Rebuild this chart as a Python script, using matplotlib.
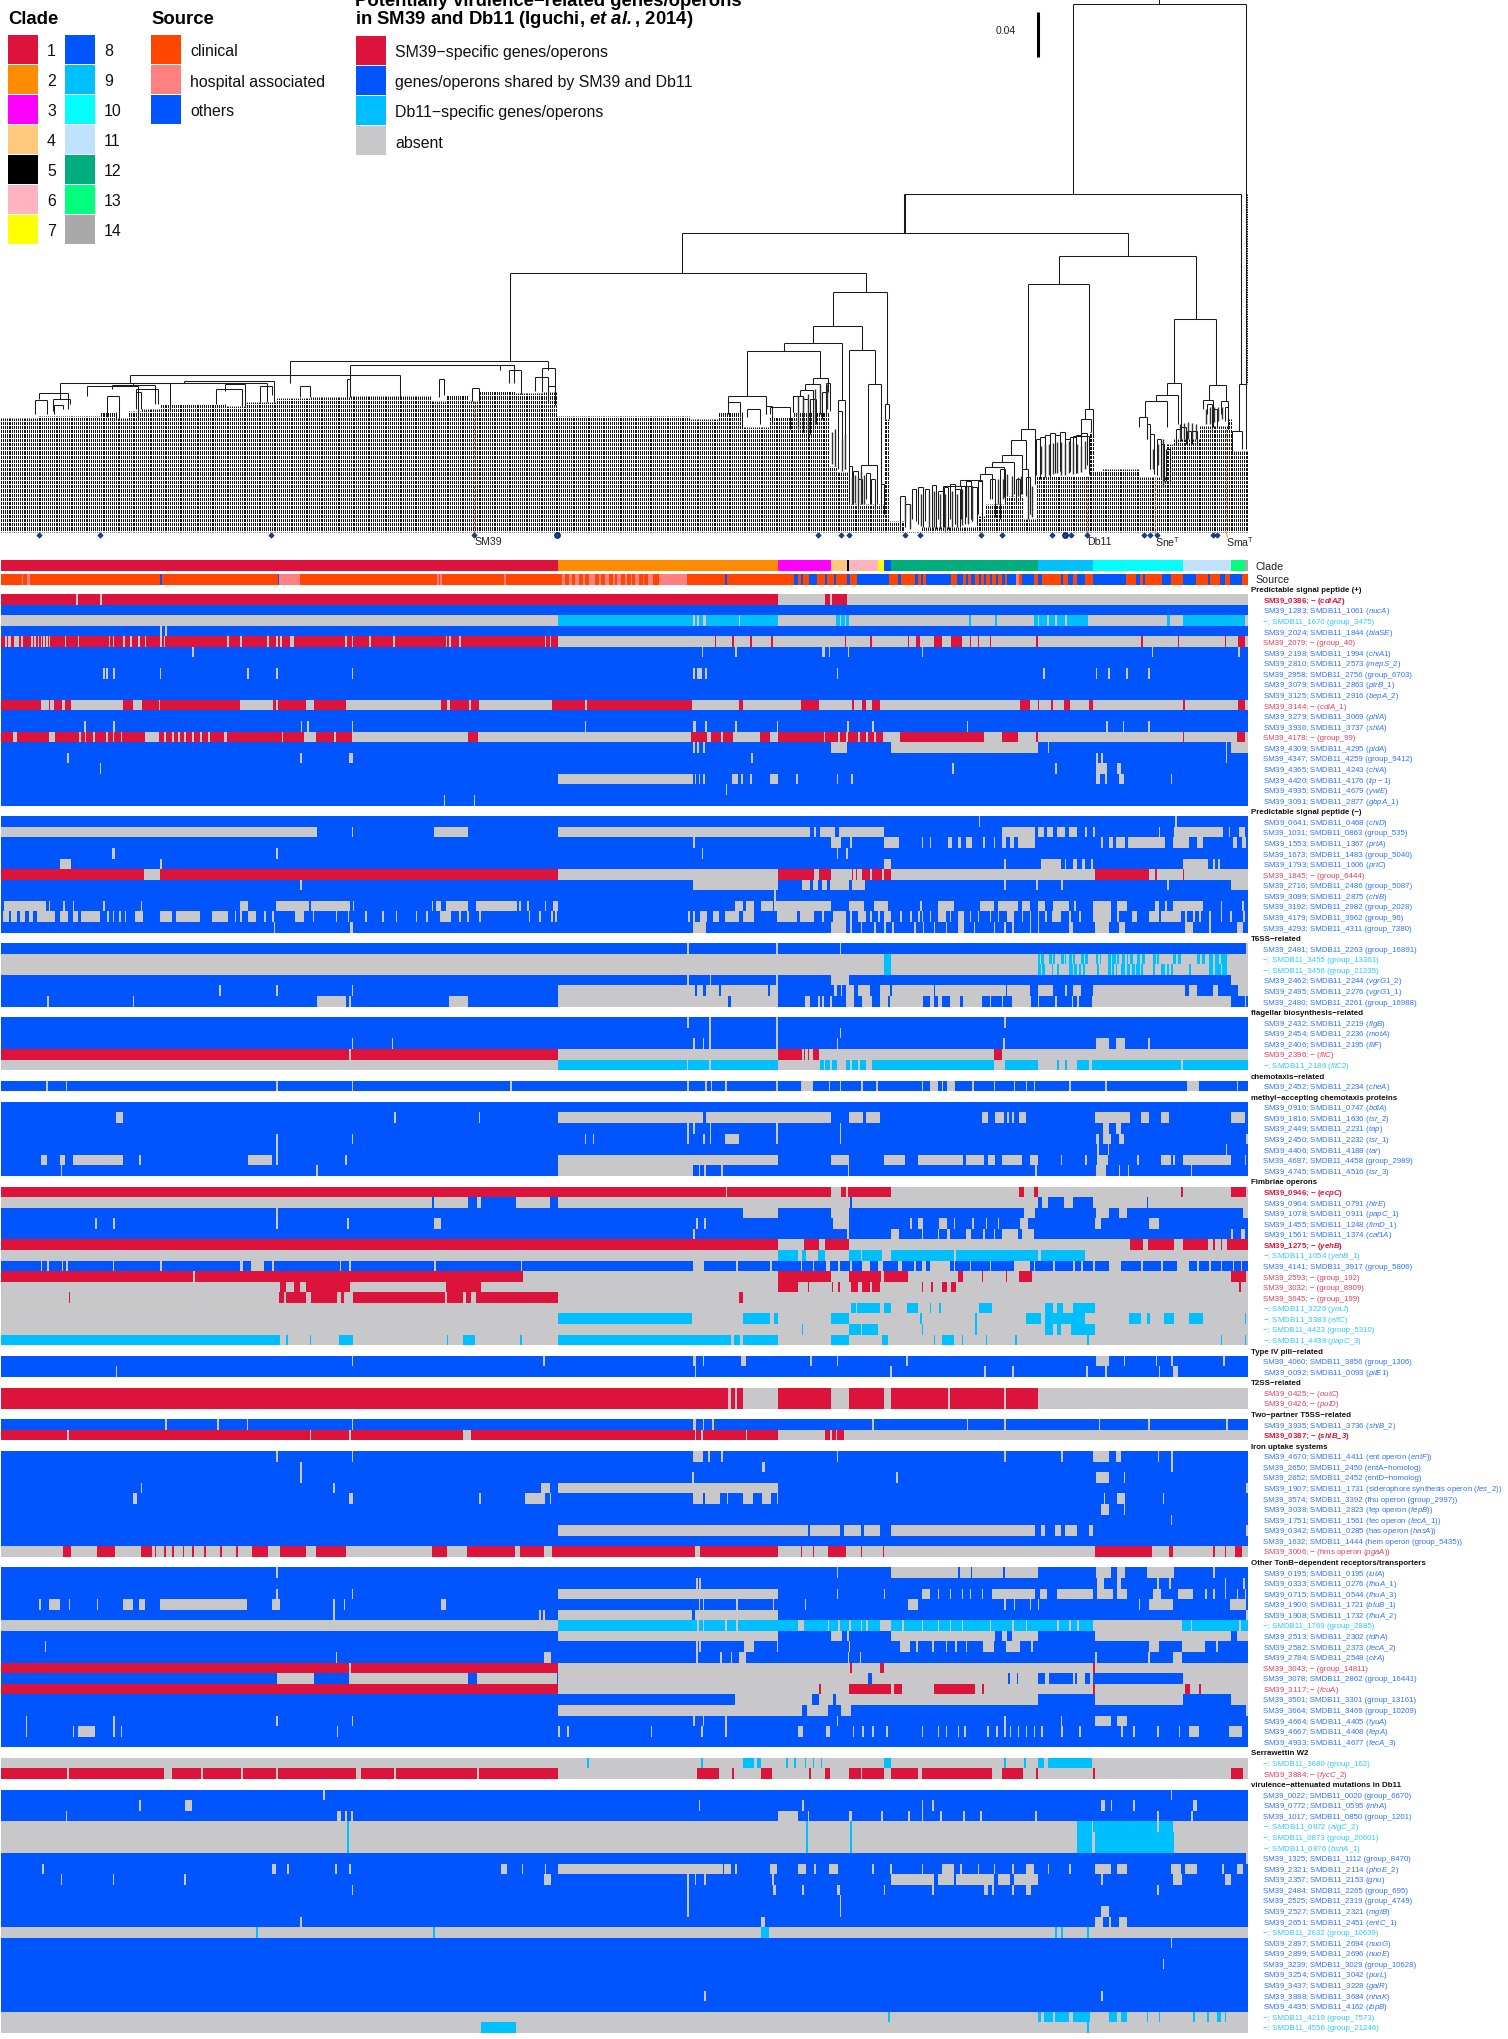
import re
import numpy as np
import matplotlib
matplotlib.use("Agg")
import matplotlib.pyplot as plt
from matplotlib.collections import LineCollection
from matplotlib.colors import ListedColormap
from matplotlib.patches import Polygon

plt.rcParams["font.family"] = ["Liberation Sans", "DejaVu Sans"]
plt.rcParams["mathtext.fontset"] = "custom"
plt.rcParams["mathtext.rm"] = "Liberation Sans"
plt.rcParams["mathtext.it"] = "Liberation Sans:italic"
plt.rcParams["mathtext.bf"] = "Liberation Sans:bold"
plt.rcParams["mathtext.bfit"] = "Liberation Sans:italic:bold"

# state letters used in the heatmap strings
STATE_CODES = "wrbcgOhmTkPyCLGSAD"
STATE_COLORS = ["#ffffff", "#dc143c", "#0055ff", "#00bfff", "#c8c8ca", "#ff4500", "#ff8080",
                "#ff00ff", "#ffc87c", "#000000", "#ffb4c0", "#ffff00", "#00ffff", "#bfe3ff",
                "#00ad7c", "#00ff7f", "#a9a9a9", "#ff8c00"]
N_COLS = 1564

CLADE_NAMES = [str(i) for i in range(1, 15)]
CLADE_COLORS = ["#dc143c", "#ff8c00", "#ff00ff", "#ffc87c", "#000000", "#ffb4c0", "#ffff00",
                "#0055ff", "#00bfff", "#00ffff", "#bfe3ff", "#00ad7c", "#00ff7f", "#a9a9a9"]
SOURCE_NAMES = ["clinical", "hospital associated", "others"]
SOURCE_COLORS = ["#ff4500", "#ff8080", "#0055ff"]
STATUS_NAMES = ["SM39\u2212specific genes/operons", "genes/operons shared by SM39 and Db11",
                "Db11\u2212specific genes/operons", "absent"]
STATUS_COLORS = ["#dc143c", "#0055ff", "#00bfff", "#c8c8ca"]

CLADE_BAR = ("r; D 699-975; m 975-1041; T 1041-1061; k 1061-1064; P 1064-1100; y 1100-1107; b 1107-1116; "
             "G 1116-1300; c 1300-1370; C 1370-1483; L 1483-1543; S 1543-1560; A 1560-1564")
SOURCE_BAR = ("O; h 26 33-36 349-375 547 551 631 703-708 712-716 720-725 730 738-745 750 757-762 768 773-778 "
              "783 790 795-800 805 812-818 825-860; b 200 347 908 994-1000 1003-1006 1014-1023 1034-1036 "
              "1045-1047 1061-1065 1073-1114 1125-1129 1146-1150 1154-1157 1160-1191 1199-1206 1210-1213 "
              "1217-1222 1226-1229 1233-1236 1240-1243 1248-1251 1255-1259 1262-1273 1280-1295 1300-1306 "
              "1329-1332 1338-1344 1350-1360 1370-1411 1423-1428 1432-1435 1456-1468 1483-1499 1514-1516 "
              "1529-1535 1541-1556; h 1273-1277")

SECTION_TITLES = ["Predictable signal peptide (+)", "Predictable signal peptide (\u2212)", "T6SS\u2212related",
                  "flagellar biosynthesis\u2212related", "chemotaxis\u2212related",
                  "methyl\u2212accepting chemotaxis proteins", "Fimbriae operons", "Type IV pili\u2212related",
                  "T2SS\u2212related", "Two\u2212partner T5SS\u2212related", "Iron uptake systems",
                  "Other TonB\u2212dependent receptors/transporters", "Serrawettin W2",
                  "virulence\u2212attenuated mutations in Db11"]
BOLD_LOCI = ["SM39_0386", "SM39_0946", "SM39_1275", "SM39_0387"]

SIGNAL_POS = [
    ("SM39_0386; \u2212 (*cdiA2*)", "g; r 0-975 1034-1061; g 94-97 124-127 1040"),
    ("SM39_1283; SMDB11_1061 (*nucA*)", "b"),
    ("\u2212; SMDB11_1670 (group_3475)", "g; c 699-975 1047-1063 1214 1247 1295-1363 1463-1466 1483-1560; g 868 873 881-884 925 1052 1058 1300 1312 1322 1335"),
    ("SM39_2024; SMDB11_1844 (*blaSE*)", "b; g 200 206"),
    ("SM39_2079; \u2212 (group_40)", "g; r 0-699 895 917 940 966 1058 1090 1137 1148 1150 1170-1180 1192-1205 1215 1225 1240 1298 1430 1476 1535 1552-1560; g 5 9-12 16-22 25 38 42 46 50 53 57 60 80 96 135 140 153 162 172 180 200 204 283-286 300 334 345 350 362-368 432 440 462 492 558 562 575 682 688"),
    ("SM39_2198; SMDB11_1994 (*chiA1*)", "b; g 240 879 921 1030-1033 1038 1062 1155 1443 1552"),
    ("SM39_2810; SMDB11_2573 (*mepS_2*)", "b"),
    ("SM39_2958; SMDB11_2756 (group_6703)", "b; g 128 132 141 199 309 345 440 868-871 873-879 883 1048 1307 1373 1389 1411 1439"),
    ("SM39_3079; SMDB11_2863 (*ptrB_1*)", "b"),
    ("SM39_3125; SMDB11_2916 (*bepA_2*)", "b"),
    ("SM39_3144; \u2212 (*cdiA_1*)", "g; r 0-50 60-62 66-76 80-88 153-165 177-300 341-383 393-433 552-560 563-587 590-600 691-867 925-930 1003-1015 1015-1026 1067-1070 1080-1085 1093-1103 1278-1290 1300-1302 1317 1333-1341 1364-1370 1483 1552-1560; g 198 345 733"),
    ("SM39_3279; SMDB11_3069 (*phlA*)", "b"),
    ("SM39_3936; SMDB11_3737 (*shlA*)", "b; g 104 141 376 384 440 732 868-872 883 921 973 1061 1093 1211 1386 1407 1439"),
    ("SM39_4178; \u2212 (group_99)", "g; r 0-15 20-60 68-98 100-115 118-180 198-280 284-380 395-440 586-598 865-885 891-903 905-918 952-964 975-1106 1127-1233 1256-1276 1298 1482 1550-1560; g 105 132 140 150 205 215 222 230 240 250 260 352 380 418 1032 1050 1060 1075 1085 1095"),
    ("SM39_4309; SMDB11_4295 (*pldA*)", "b; g 868 873 881 1041-1061 1116-1300 1313 1536 1543-1564"),
    ("SM39_4347; SMDB11_4259 (group_9412)", "b; g 83 375 437-441 941 1373-1376 1380 1536"),
    ("SM39_4365; SMDB11_4243 (*chiA*)", "b; g 124 1193 1322 1373-1387 1400-1405"),
    ("SM39_4420; SMDB11_4176 (*lip\u22121*)", "b; g 699-868 870 875 881 917-924 928 940 964-975 997 1048 1066 1373-1378 1385 1402-1408 1467"),
    ("SM39_4935; SMDB11_4679 (*ywiE*)", "b; g 909"),
    ("SM39_3091; SMDB11_2877 (*gbpA_1*)", "b; g 555 593"),
]
SIGNAL_NEG = [
    ("SM39_0641; SMDB11_0468 (*chiD*)", "b; g 1226 1473"),
    ("SM39_1031; SMDB11_0863 (group_535)", "b; g 0-396 440 543-586 699-1015 1020 1027-1046 1051-1108 1256-1297 1300-1308 1312-1320 1325-1335 1340-1350 1360 1370 1452 1471-1533 1540 1553-1560"),
    ("SM39_1553; SMDB11_1367 (*prtA*)", "b; g 868 1041-1054 1065 1108-1126 1155 1165 1188-1193 1200-1204 1210-1218 1232 1245 1255-1260 1265-1270 1275-1297 1380 1390-1395 1398-1410 1414-1460 1470-1490 1500-1508 1545-1550 1556-1562"),
    ("SM39_1673; SMDB11_1483 (group_5040)", "b; g 139-143 345 879 1048 1060"),
    ("SM39_1793; SMDB11_1606 (*prtC*)", "b; g 74-88 200 1108-1116 1258 1304-1330 1334 1345-1350 1356-1360 1367-1370 1483-1514 1520 1527"),
    ("SM39_1845; \u2212 (group_6444)", "g; r 0-179 199-699 975-1020 1026-1041 1067 1072 1080-1090 1093-1105 1108-1116 1372-1440 1447-1450 1482"),
    ("SM39_2716; SMDB11_2486 (group_5087)", "b; g 375 868-975 1005-1015 1018-1025 1030-1036 1040-1064 1067-1084 1258 1298 1330 1463 1543-1564"),
    ("SM39_3089; SMDB11_2875 (*chiB*)", "b; g 970"),
    ("SM39_3192; SMDB11_2982 (group_2028)", "b; g 4-56 60 78 90 128 175 300-310 345-386 389-438 441 540 545-552 558-586 596-647 650 660 682 692-699 921-930 935-945 953-968 970-1041 1064-1083 1095-1112 1153 1175-1195 1228-1245 1250-1275 1280-1290 1300-1310 1320-1340 1346 1370-1392 1400-1412 1447-1453 1460 1470-1508 1530 1557"),
    ("SM39_4179; SMDB11_3962 (group_96)", "b; g 3-10 13-20 24-30 35-40 45-68 74-84 90-96 100-124 133 140 148 155 168-178 199-215 220-250 265-285 293 300 310-320 330 340 369-380 391 420 435 457 478 495 520 533 550-565 575 585 600 662 675 690 695 862 868 877-885 893-900 908-925 930-945 973-998 1002-1020 1030 1043-1060 1065 1075-1085 1090 1100 1108-1116 1128 1140 1150 1155 1165 1175-1185 1190 1200-1208 1215 1225 1240 1250 1262-1270 1280 1290 1300 1310 1318-1330 1340 1352 1370-1392 1400 1418-1425 1440-1453 1455-1480 1485 1495 1503 1515 1530 1542 1558"),
    ("SM39_4293; SMDB11_4311 (group_7380)", "b; g 342 438-441 868-884 1041-1060 1065 1078 1095 1108 1118 1145 1156 1170 1185 1200-1208 1220 1245 1258 1268 1290 1300 1340-1345 1372-1390 1402-1410 1485-1495 1515 1550-1558"),
]
T6SS = [
    ("SM39_2481; SMDB11_2263 (group_16891)", "b; g 861 972 1052 1562"),
    ("\u2212; SMDB11_3455 (group_13361)", "g; c 1108-1116 1300-1308 1315-1322 1330-1336 1340-1350 1355-1363 1373-1380 1388-1402 1406-1420 1425-1435 1445-1452 1470-1480 1500-1510 1515-1538; g 1303 1318 1333 1343 1347 1358 1376 1392 1398 1410 1414 1429 1448 1474 1504 1520 1528"),
    ("\u2212; SMDB11_3456 (group_21235)", "g; c 1108-1116 1300-1310 1318 1325 1340-1360 1375 1388-1400 1405-1432 1445 1455-1470 1490 1515-1538; g 1304 1344 1350 1355 1392 1396 1410 1416 1422 1428 1460 1465 1520 1530"),
    ("SM39_2462; SMDB11_2244 (*vgrG1_2*)", "b; g 861 889 972 1041-1064 1543-1564"),
    ("SM39_2495; SMDB11_2276 (*vgrG1_1*)", "b; g 274 345 440 699-870 873-880 884-900 903-962 965-975 1045-1048 1053 1060-1070 1075-1090 1103-1115 1117-1170 1172-1260 1262-1290 1300-1320 1335 1345-1355 1370-1485 1490-1500 1520-1527 1552-1564"),
    ("SM39_2480; SMDB11_2261 (group_16988)", "b; g 58 165 396-433 437 562-586 699-912 915-975 1008-1015 1025 1030 1040 1060-1070 1080-1092 1103-1113 1115-1157 1165-1170 1175-1180 1190-1203 1207-1230 1240 1255 1268-1292 1300 1322 1343 1350 1368-1543 1560"),
]
FLAGELLA = [
    ("SM39_2432; SMDB11_2219 (*flgB*)", "b; g 861 888 972 1258"),
    ("SM39_2454; SMDB11_2236 (*motA*)", "b; g 888 972 1052"),
    ("SM39_2406; SMDB11_2195 (*fliF*)", "b; g 440 490 868 880 888 972 1048 1257 1373-1390 1398-1410 1439"),
    ("SM39_2396; \u2212 (*fliC*)", "g; r 0-699 975-1005 1007 1012 1018-1026 1246-1256; g 437"),
    ("\u2212; SMDB11_2186 (*fliC2*)", "g; c 699-975 1027-1048 1060-1085 1093-1246 1259-1300 1325 1335 1350-1364 1368-1564; g 860 888 1032 1040 1065 1075 1480"),
]
CHEMOTAXIS = [
    ("SM39_2452; SMDB11_2234 (*cheA*)", "b; g 57 81 345 440 639 861 883 890 908 972 1003-1018 1038 1052 1079 1098 1155 1165-1175 1180 1186-1197 1218 1245 1270 1285 1295 1340 1385 1488-1503 1550"),
]
MCP = [
    ("SM39_0916; SMDB11_0747 (*bdlA*)", "b"),
    ("SM39_1816; SMDB11_1636 (*tsr_2*)", "b; g 144-153 493 599 699-881 884-1041 1064-1081 1085-1103 1230-1238 1247-1258 1262 1268 1277-1286 1372-1416 1430-1440 1455-1465 1543-1560"),
    ("SM39_2449; SMDB11_2231 (*tap*)", "b; g 861 868 889 972 1052 1382-1390 1398-1405"),
    ("SM39_2450; SMDB11_2232 (*tsr_1*)", "b; g 345 440 732 742 861 881 889 908-925 972 1052 1373-1377 1382-1392 1402-1408 1562"),
    ("SM39_4406; SMDB11_4188 (*tar*)", "b; g 345 1375 1388 1536"),
    ("SM39_4687; SMDB11_4458 (group_2989)", "b; g 50-58 74-80 90-153 173 310-340 345 432 699-975 1041-1064 1108-1134 1150-1207 1210-1233 1238-1247 1256-1280 1290-1300 1329 1360 1375-1388 1425 1455-1467 1470 1483-1543 1560"),
    ("SM39_4745; SMDB11_4516 (*tsr_3*)", "b; g 75 395 699-868 875 882 903 1062 1297 1373-1386 1402 1413 1492"),
]
FIMBRIAE = [
    ("SM39_0946; \u2212 (*ecpC*)", "g; r 0-1041 1054-1116 1277-1283 1296-1300 1480 1543-1562; g 909 1060"),
    ("SM39_0964; SMDB11_0791 (*htrE*)", "g; b 540-543 586-597 602-646 689-699 1065 1300-1306 1313-1333 1345-1370 1437"),
    ("SM39_1078; SMDB11_0911 (*papC_1*)", "b; g 345 931-975 1041-1064 1283-1297 1373-1390 1402-1412 1558-1564"),
    ("SM39_1455; SMDB11_1248 (*fimD_1*)", "b; g 118 141 345 434 543-552 872 882 1043-1064 1140 1150-1157 1176-1187 1195 1218 1235 1250 1278-1288 1372-1380 1440-1452"),
    ("SM39_1561; SMDB11_1374 (*caf1A*)", "b; g 868 1061 1116-1126 1155 1175 1187-1190 1210-1216 1232 1245 1255-1275 1280-1295 1543 1555-1560"),
    ("SM39_1275; \u2212 (*yehB*)", "g; r 0-964 965-975 1007-1026 1034-1064 1416-1432 1438-1471 1483-1514 1520 1530 1538-1564"),
    ("\u2212; SMDB11_1054 (*yehB_1*)", "g; c 975-1000 1005-1010 1025-1034 1064-1078 1080-1105 1116-1195 1198-1300 1305-1360"),
    ("SM39_4141; SMDB11_3917 (group_5806)", "b; g 50 58 76 82 140 200 300-303 313-330 340 425 437 543 652 868-882 922 965 1003 1018 1035-1040 1050 1065 1080-1090 1100-1106 1125-1130 1145 1155-1160 1165-1190 1195 1215 1240 1270-1290 1295 1320 1345 1355 1370 1390-1405 1430 1455 1475-1490 1500 1515 1530 1545 1555"),
    ("SM39_2593; \u2212 (group_192)", "g; r 0-655 975-1041 1064-1104 1108-1137 1200-1206 1230 1260 1277-1293 1543-1562; g 241"),
    ("SM39_3032; \u2212 (group_8909)", "g; r 350-358 367-375 382-438 558-602 975-1000 1012 1042 1050 1066-1075 1080-1090 1093-1103 1155 1167 1180-1187 1192-1198 1553"),
    ("SM39_3645; \u2212 (group_199)", "g; r 85 349-355 358-382 389-422 426-430 441-557 560-580 583-590 596-699 926-930"),
    ("\u2212; SMDB11_3226 (*yraJ*)", "g; c 1066-1072 1074-1103 1108-1116 1136-1150 1165 1177 1227-1243 1310-1320 1325-1332 1345-1372"),
    ("\u2212; SMDB11_3383 (*elfC*)", "g; c 699-867 931-965 970-975 1041-1064 1153 1222 1286-1305 1310-1360 1415-1430 1437-1441 1459-1471 1490-1507 1560"),
    ("\u2212; SMDB11_4423 (group_5310)", "g; c 1004 1064-1078 1080-1100 1155 1222 1310-1320 1325-1330 1342-1372"),
    ("\u2212; SMDB11_4438 (*papC_3*)", "g; c 0-350 358 387 424-441 559 580-595 651 699-915 919-927 931-975 1041-1064 1105-1112 1170 1180-1195 1205 1235 1272 1362 1530 1560"),
]
PILI = [
    ("SM39_4060; SMDB11_3856 (group_1306)", "b; g 440 680 868-872 880 928-935 1015 1048 1135 1373-1390 1408 1448 1468 1533"),
    ("SM39_0092; SMDB11_0093 (*pilE1*)", "b; g 144 870 1115 1233 1268 1361 1385 1452 1470-1476"),
]
T2SS = [
    ("SM39_0425; \u2212 (*outC*)", "g; r 0-912 915-920 923-931 975-1041 1064-1108 1116-1300; g 1188 1258"),
    ("SM39_0426; \u2212 (*pulD*)", "g; r 0-912 915-920 923-931 975-1041 1064-1108 1116-1300; g 1188 1258"),
]
T5SS = [
    ("SM39_3935; SMDB11_3736 (*shlB_2*)", "b; g 206 271 308 440 868-872 880 892 1093 1211 1258 1377 1439 1537"),
    ("SM39_0387; \u2212 (*shlB_3*)", "g; r 0-975 1034-1057; g 83 387 437 579-590 870 878 934 1040 1047"),
]
IRON = [
    ("SM39_4670; SMDB11_4411 (ent operon (*entF*))", "b; g 345 440 868-880 887 903 1048 1258 1330 1370-1390 1398-1405 1451 1468"),
    ("SM39_2650; SMDB11_2450 (entA\u2212homolog)", "b; g 375 954-958 1468"),
    ("SM39_2652; SMDB11_2452 (entD\u2212homolog)", "b; g 375 867 1123 1373-1390 1408"),
    ("SM39_1907; SMDB11_1731 (siderophore synthesis operon (*fes_2*))", "b; g 175 417 677-688 699-975 1562"),
    ("SM39_3574; SMDB11_3392 (fhu operon (group_2997))", "b; g 165-170 437-441 600 657-682 688 868-880 883-902 910 931-943 955-966 973 1383 1400-1410 1457"),
    ("SM39_3038; SMDB11_2823 (fep operon (*fepB*))", "b; g 1380-1390 1408"),
    ("SM39_1751; SMDB11_1561 (fec operon (*fecA_1*))", "b; g 1467"),
    ("SM39_0342; SMDB11_0285 (has operon (*hasA*))", "b; g 699-1012 1015-1052 1057-1078 1082-1103 1116-1297 1305-1310 1322-1330 1335-1350 1365-1370 1562"),
    ("SM39_1632; SMDB11_1444 (hem operon (group_5435))", "b"),
    ("SM39_3006; \u2212 (hms operon (*pgaA*))", "g; r 78-88 120-143 175-190 193 205 215 228 240 255 275 295 315-335 350-383 395-433 540-560 585-645 651-681 691-870 877-975 1003 1018 1037-1060 1078 1106 1372-1443 1465-1470 1520 1535 1548-1556"),
]
TONB = [
    ("SM39_0195; SMDB11_0195 (*iutA*)", "b; g 345 1048 1116-1200 1203-1216 1218-1257 1259-1300 1373-1392 1400-1410 1437-1471 1520"),
    ("SM39_0333; SMDB11_0276 (*fhuA_1*)", "b; g 872 876 1375-1384 1400-1405 1450 1465 1535 1558"),
    ("SM39_0715; SMDB11_0544 (*fhuA_3*)", "b; g 345 440 699-975 1048 1107 1155-1165 1175 1190 1205 1215 1230 1243-1297 1303-1312 1325-1370 1375-1395 1400-1412 1445-1455 1476-1495 1510 1520 1535 1550 1560"),
    ("SM39_1900; SMDB11_1721 (*btuB_1*)", "b; g 48 60-74 85 120 153-165 173-180 199-309 340-350 417 430 552-558 875 880 922 968 1008 1137-1150 1258 1270 1290 1300 1427 1440-1470 1542-1562"),
    ("SM39_1908; SMDB11_1732 (*fhuA_2*)", "b; g 417 675 680 699-867 870-975 1562"),
    ("\u2212; SMDB11_1769 (group_2885)", "g; c 699-1000 1007-1103 1116-1370 1481-1564; g 873 880 908 922 1037 1050 1064 1078 1085 1130 1155 1175 1190 1205 1240 1268 1285 1325 1340 1350 1492 1553"),
    ("SM39_2513; SMDB11_2302 (*tdhA*)", "b; g 699-975 1041-1055 1061 1116-1247 1256-1262 1268-1300 1372-1543 1550-1564"),
    ("SM39_2582; SMDB11_2373 (*fecA_2*)", "b; g 55 872 876 932-944 973 1063 1127-1140 1148 1168 1185 1197 1210 1232-1245 1260-1278 1292 1440-1453 1481-1510 1524"),
    ("SM39_2784; SMDB11_2548 (*cirA*)", "b; g 420 681-690 872 902 915 925-935 1062 1077 1372 1439 1470-1481"),
    ("SM39_3043; \u2212 (group_14811)", "g; r 0-699 1065 1103-1108 1370; g 437"),
    ("SM39_3078; SMDB11_2862 (group_16441)", "g; b 0-346 393-437 586-597 697 1088-1093 1263 1274 1300-1310 1315-1345 1347 1360-1366 1370-1483"),
    ("SM39_3117; \u2212 (*fcuA*)", "g; r 0-699 1026 1064-1116 1120-1130 1170-1221 1231 1370 1485-1491 1503"),
    ("SM39_3501; SMDB11_3301 (group_13161)", "g; b 0-921 1017-1026 1043-1047 1300-1372 1483-1543"),
    ("SM39_3664; SMDB11_3469 (group_10209)", "b; g 699-1005 1011-1037 1053-1066 1562"),
    ("SM39_4664; SMDB11_4405 (*fyuA*)", "b; g 31 141 345 440 868-871 880 908 1048 1258 1329 1372-1392 1400-1412"),
    ("SM39_4667; SMDB11_4408 (*fepA*)", "b; g 31 90 97-118 141 150 421 699 710 815 878 908 1000-1006 1035-1040 1068 1080 1093 1110 1155 1175 1185 1200 1208 1237 1248 1258 1265 1275 1285 1295 1305 1330 1352 1405 1420 1450 1477 1490-1503 1540-1556"),
    ("SM39_4933; SMDB11_4677 (*fecA_3*)", "b"),
]
SERRAWETTIN = [
    ("\u2212; SMDB11_3680 (group_162)", "g; c 735 878 931-945 948-953 985 995 1008 1018 1028 1108-1116 1258 1283 1300-1308 1313-1368"),
    ("SM39_3884; \u2212 (*fycC_2*)", "g; r 0-699 873-901 917 953-967 1014 1034-1040 1064-1078 1080-1108 1116-1150 1155-1243 1256-1282 1298 1370 1543-1558; g 83 205-215 251 301 345 445-452 493 597"),
]
ATTENUATED = [
    ("SM39_0022; SMDB11_0020 (group_6670)", "b; g 404 1467"),
    ("SM39_0772; SMDB11_0595 (*inhA*)", "b; g 173 231-240 875 1005 1155 1168 1380-1385 1392 1420 1495-1500"),
    ("SM39_1017; SMDB11_0850 (group_1201)", "b; g 81 421-426 432 439 975-1000 1012 1063-1067 1104 1138 1155 1178 1207 1228 1297 1450 1493"),
    ("\u2212; SMDB11_0872 (*algC_2*)", "g; c 434 1010 1065 1350-1368 1370-1470; g 1450"),
    ("\u2212; SMDB11_0873 (group_20601)", "g; c 434 1010 1065 1350-1368 1372-1471"),
    ("\u2212; SMDB11_0876 (*bshA_1*)", "g; c 434 1010 1065 1350-1368 1372-1471"),
    ("SM39_1325; SMDB11_1112 (group_8470)", "b; g 1562"),
    ("SM39_2321; SMDB11_2114 (*phoE_2*)", "b; g 52 340-345 359 419 437 627-635 653 682 699-905 907-915 921 964-973 1000-1010 1020 1038-1050 1093 1115 1155 1180-1195 1203 1225 1245 1268 1285-1295 1313 1340 1372-1392 1400-1412 1467-1480 1485-1500 1532 1550-1558"),
    ("SM39_2357; SMDB11_2153 (*gnu*)", "b; g 75 140 230 681-690 861 870 882 967 1116-1170 1175-1195 1198-1245 1250-1265 1270-1300 1380 1470-1481 1535-1543"),
    ("SM39_2484; SMDB11_2265 (group_695)", "b; g 440 861 968-972 1005 1048-1052 1107 1168 1233-1238 1243 1268 1285-1292 1450"),
    ("SM39_2525; SMDB11_2319 (group_4749)", "b; g 861 1052"),
    ("SM39_2527; SMDB11_2321 (*mgtB*)", "b; g 861 1052 1380-1390"),
    ("SM39_2651; SMDB11_2451 (*entC_1*)", "b; g 375 953-958 1372-1382 1390 1402-1412"),
    ("\u2212; SMDB11_2632 (group_10639)", "g; c 320 542 953-963 1322 1330 1362"),
    ("SM39_2897; SMDB11_2694 (*nuoG*)", "b; g 1467"),
    ("SM39_2899; SMDB11_2696 (*nuoE*)", "b"),
    ("SM39_3239; SMDB11_3029 (group_10628)", "b; g 1457"),
    ("SM39_3254; SMDB11_3042 (*purL*)", "b"),
    ("SM39_3437; SMDB11_3228 (*galR*)", "b"),
    ("SM39_3888; SMDB11_3684 (*nhaK*)", "b; g 882 1380"),
    ("SM39_4435; SMDB11_4162 (*ibpB*)", "b"),
    ("\u2212; SMDB11_4219 (group_7573)", "g; c 1113 1300-1305 1308-1320 1322-1340 1345-1366 1390-1400 1405-1412 1437 1452 1495 1513 1525-1530 1535"),
    ("\u2212; SMDB11_4556 (group_21246)", "g; c 602-646 1362"),
]
SECTIONS = [SIGNAL_POS, SIGNAL_NEG, T6SS, FLAGELLA, CHEMOTAXIS, MCP, FIMBRIAE, PILI, T2SS, T5SS,
            IRON, TONB, SERRAWETTIN, ATTENUATED]

# dendrogram, in picture units: top of the tip field over each stretch of leaves
TIP_EDGES = [0, 38, 73, 99, 116, 128, 141, 160, 225, 247, 276, 310, 349, 431, 446, 468, 480, 515, 543, 557,
             690, 718, 742, 769, 793, 830, 837, 849, 883, 890, 905, 922, 975, 985, 1004, 1023, 1036, 1089,
             1094, 1101, 1140, 1166, 1174, 1200, 1227, 1232, 1248]
TIP_TOPS = [419, 417, 417, 413, 419, 412, 410, 405, 407, 403, 399, 398, 397, 402, 396, 402, 392, 394, 393,
            417, 420, 413, 428, 418, 413, 467, 473, 505, 420, 522, 532, 528, 517, 505, 497, 520, 477, 433,
            472, 470, 478, 445, 440, 427, 420, 452]
BOTTOM_TIP = 533

# internal nodes: left x, right x, bar height, left drop end, right drop end
NODE_XL = [1073, 904, 682, 510, 833, 813, 784, 747, 849, 868, 1059, 1028, 1174, 1167, 1209, 1156, 1145, 1021, 1085, 1081, 1073, 1011, 1002, 992, 985, 980, 960, 943,
           728, 728, 766, 747, 770, 793, 813, 805, 800, 793, 803, 810, 822, 826, 838, 838, 849, 853, 858, 861, 866, 871, 881, 885,
           1036, 1040, 1045, 1050, 1055, 1060, 1065, 1070, 1076, 1081, 1139, 1147, 1150, 1157, 1161, 1166, 1176, 1181, 1187, 1192, 1203, 1207, 1212, 1221, 1225, 1232, 1239,
           900, 905, 912, 918, 925, 932, 938, 944, 950, 955, 961, 966, 972, 978, 990, 1000, 1016, 1022, 1026,
           35, 39, 53, 54, 87, 107, 112, 136, 136, 133, 184, 216, 225, 260, 300, 347, 439, 472, 548, 290, 350, 509, 500, 535, 542, 130, 60]
NODE_XR = [1246, 1241, 1128, 866, 887, 862, 842, 820, 875, 881, 1196, 1089, 1216, 1181, 1226, 1178, 1167, 1035, 1093, 1091, 1089, 1026, 1022, 1014, 1004, 992, 982, 972,
           766, 740, 772, 760, 790, 803, 828, 820, 813, 803, 808, 816, 826, 830, 845, 842, 852, 858, 862, 877, 870, 875, 884, 889,
           1040, 1045, 1050, 1055, 1060, 1065, 1070, 1076, 1081, 1087, 1147, 1150, 1154, 1161, 1164, 1170, 1181, 1186, 1191, 1197, 1213, 1212, 1217, 1228, 1228, 1242, 1246,
           905, 910, 916, 923, 929, 936, 943, 948, 955, 960, 965, 971, 977, 982, 995, 1005, 1020, 1028, 1030,
           47, 68, 70, 63, 138, 119, 155, 158, 141, 267, 274, 242, 245, 272, 310, 350, 444, 479, 555, 548, 514, 521, 514, 548, 555, 400, 170]
NODE_Y = [5, 195, 234, 274, 293, 327, 344, 352, 351, 385, 257, 285, 320, 384, 386, 396, 402, 430, 410, 420, 437, 441, 456, 463, 468, 475, 481, 487,
          397, 403, 407, 410, 408, 397, 379, 385, 391, 397, 400, 400, 393, 384, 401, 412, 467, 472, 480, 466, 474, 480, 485, 405,
          440, 438, 436, 434, 436, 433, 440, 438, 436, 434, 418, 425, 435, 440, 445, 450, 430, 428, 432, 432, 401, 405, 410, 402, 408, 432, 385,
          497, 505, 490, 488, 490, 486, 492, 488, 485, 490, 487, 482, 488, 482, 480, 470, 480, 470, 478,
          401, 394, 400, 406, 387, 397, 386, 390, 393, 384, 382, 390, 385, 387, 387, 380, 380, 389, 387, 362, 366, 371, 366, 378, 369, 376, 384]
NODE_YL = [195, 234, 274, 362, 327, 344, 352, 397, 467, 466, 285, 430, 384, 396, 401, 402, 418, 441, 420, 437, 470, 456, 463, 468, 475, 481, 487, 492,
           407, 415, 415, 418, 415, 413, 385, 391, 397, 413, 430, 435, 420, 415, 412, 470, 505, 505, 505, 475, 500, 505, 510, 420,
           476, 475, 474, 472, 470, 468, 470, 472, 470, 468, 428, 440, 470, 476, 478, 482, 445, 442, 445, 445, 410, 415, 428, 415, 422, 455, 432,
           530, 515, 520, 525, 522, 528, 520, 528, 520, 525, 520, 518, 522, 515, 500, 520, 505, 495, 497,
           415, 400, 412, 415, 397, 418, 390, 405, 410, 387, 384, 405, 392, 403, 398, 398, 398, 402, 404, 384, 390, 384, 371, 392, 393, 384, 400]
NODE_YR = [385, 385, 257, 293, 405, 351, 401, 379, 385, 485, 320, 410, 386, 430, 402, 425, 428, 485, 437, 433, 475, 470, 480, 495, 498, 500, 490, 512,
           415, 418, 425, 425, 430, 433, 393, 400, 430, 433, 440, 425, 415, 412, 470, 465, 505, 510, 505, 505, 505, 510, 515, 420,
           480, 478, 478, 474, 472, 470, 472, 474, 472, 466, 440, 470, 475, 478, 482, 485, 435, 445, 445, 445, 428, 430, 428, 430, 430, 450, 450,
           528, 520, 522, 528, 526, 530, 528, 530, 525, 528, 525, 520, 526, 520, 518, 505, 500, 498, 515,
           415, 410, 405, 410, 419, 419, 405, 405, 410, 403, 403, 407, 407, 396, 398, 398, 396, 402, 406, 371, 384, 395, 371, 394, 394, 400, 410]

# tightly packed twigs, drawn as dark stems
TWIG_X = [798, 803, 808, 815, 820, 827, 832, 835, 842, 845, 852, 855, 858, 861, 864,
          1041, 1045, 1049, 1053, 1057, 1061, 1065, 1069, 1073, 1077, 1081, 1085,
          1153, 1158, 1163, 1180, 1184, 1188, 1192, 1196, 1206, 1210, 1214, 1218, 1222,
          905, 910, 921, 929, 934, 940, 945, 952, 957, 962, 968, 972,
          998, 1003, 1007, 1012, 1018, 1021, 1028, 1032]
TWIG_TOP = [397, 397, 395, 390, 385, 385, 433, 430, 440, 435, 478, 476, 478, 472, 476,
            447, 445, 445, 444, 443, 443, 445, 442, 443, 445, 447, 442,
            450, 445, 440, 425, 424, 423, 424, 425, 410, 408, 408, 408, 408,
            500, 505, 495, 495, 492, 495, 495, 492, 495, 490, 487, 487,
            480, 480, 475, 477, 478, 477, 490, 487]
TWIG_BOTTOM = [430, 430, 432, 425, 415, 410, 465, 467, 472, 470, 505, 504, 505, 505, 505,
               475, 477, 476, 475, 474, 476, 476, 474, 475, 474, 473, 470,
               470, 466, 488, 440, 440, 440, 441, 440, 425, 425, 423, 422, 420,
               522, 530, 527, 528, 528, 530, 532, 528, 528, 526, 525, 522,
               505, 500, 497, 498, 497, 495, 520, 518]

# strains marked below the tree
MARKED_STRAINS = [39, 100, 271, 474, 818, 841, 849, 905, 920, 981, 1002, 1052, 1071, 1087, 1144, 1150, 1157, 1213, 1217]
LARGE_MARKED = [557, 1065]
REFERENCE_NAMES = ["SM39", "Db11", "Sne$^{\\mathrm{T}}$", "Sma$^{\\mathrm{T}}$"]
REFERENCE_X = [474, 1087, 1155, 1226]
REFERENCE_TOP = [402, 477, 478, 430]
LEAF_PITCH = 1.88
RUNG_PITCH = 4.22
HEAT_RIGHT = 1247.5


def parse_states(spec):
    row = np.zeros(N_COLS, dtype=int)
    layers = spec.split(";")
    row[:] = STATE_CODES.index(layers[0].strip())
    for layer in layers[1:]:
        parts = layer.split()
        code = STATE_CODES.index(parts[0])
        for tok in parts[1:]:
            if "-" in tok:
                a, b = tok.split("-")
                row[int(a):int(b)] = code
            else:
                row[int(tok):int(tok) + 2] = code
    return row


def gene_markup(label, bold):
    cmd = "mathbfit" if bold else "mathit"

    def repl(m):
        name = m.group(1).replace("_", r"\_").replace("\u2212", "-")
        return "$\\%s{%s}$" % (cmd, name)
    return re.sub(r"\*(.+?)\*", repl, label)


def label_color(label):
    if label.startswith("\u2212;"):
        return STATE_COLORS[3]
    if "; \u2212 " in label:
        return STATE_COLORS[1]
    return STATE_COLORS[2]


def draw_swatches(ax, x, y0, colors, names, text_x, fontsize=11.4, pitch=30):
    for i, (color, name) in enumerate(zip(colors, names)):
        ax.fill_between([x, x + 30], y0 + i * pitch, y0 + (i + 1) * pitch - 0.8, color=color, lw=0)
        ax.text(text_x, y0 + (i + 0.5) * pitch + 1, name, fontsize=fontsize, va="center", ha="left", color="#111111")


fig = plt.figure(figsize=(15.08, 20.40), dpi=100)
ax = fig.add_axes([0, 0, 1, 1])
ax.set_xlim(0, 1508)
ax.set_ylim(2040, 0)
ax.axis("off")

# legends
ax.text(8, 20, "Clade", fontsize=13.3, fontweight="bold", va="center")
draw_swatches(ax, 8, 36, CLADE_COLORS[:7], CLADE_NAMES[:7], 47)
draw_swatches(ax, 65, 36, CLADE_COLORS[7:], CLADE_NAMES[7:], 104)
ax.text(151, 20, "Source", fontsize=13.3, fontweight="bold", va="center")
draw_swatches(ax, 151, 36, SOURCE_COLORS, SOURCE_NAMES, 190.5)
ax.text(355, 1, "Potentially virulence\u2212related genes/operons", fontsize=13.3, fontweight="bold", va="center")
ax.text(355, 19, "in SM39 and Db11 (Iguchi, $\\mathbfit{et\\ al.}$, 2014)", fontsize=13.3, fontweight="bold", va="center")
draw_swatches(ax, 356, 37, STATUS_COLORS, STATUS_NAMES, 395)

# dendrogram
edges = np.array(TIP_EDGES, dtype=float)
tops = np.array(TIP_TOPS, dtype=float)
leaves = np.arange(1, edges[-1], LEAF_PITCH)
leaf_tops = tops[np.clip(np.searchsorted(edges, leaves, side="right") - 1, 0, len(tops) - 1)]
ax.vlines(leaves, leaf_tops, BOTTOM_TIP, color="#000000", lw=0.66, zorder=1)

outline = [(edges[0], BOTTOM_TIP)]
for i, top in enumerate(tops):
    outline += [(edges[i], top), (edges[i + 1], top)]
outline.append((edges[-1], BOTTOM_TIP))
field = Polygon(outline, closed=True, transform=ax.transData, fc="none", ec="none")
ax.add_patch(field)
rungs = ax.hlines(np.arange(BOTTOM_TIP - 1.5, 385, -RUNG_PITCH), 0, edges[-1], color="#ffffff", lw=0.75, zorder=2)
rungs.set_clip_path(field)

segments = []
for xl, xr, y, yl, yr in zip(NODE_XL, NODE_XR, NODE_Y, NODE_YL, NODE_YR):
    segments.append([(xl, y), (xr, y)])
    segments.append([(xl, y), (xl, yl)])
    segments.append([(xr, y), (xr, yr)])
ax.add_collection(LineCollection(segments, colors="#1a1a1a", linewidths=0.75, zorder=3))
ax.vlines(TWIG_X, TWIG_TOP, TWIG_BOTTOM, color="#333333", lw=1.0, zorder=3)
ax.plot([1159, 1159], [0, 5], color="#1a1a1a", lw=0.75, zorder=3)
ax.plot([905, 905], [195, 234], color="#1a1a1a", lw=0.75, zorder=3)
ax.plot([1247, 1247], [195, 385], color="#111111", lw=0.7, ls=(0, (1.5, 1)), zorder=3)

ax.plot([1038, 1038], [12.7, 57.7], color="#000000", lw=2.2, solid_capstyle="butt")
ax.text(1006, 31.5, "0.04", fontsize=7.5, ha="center", va="center", color="#222222")

for name, x, top in zip(REFERENCE_NAMES, REFERENCE_X, REFERENCE_TOP):
    ax.plot([x, x], [top, BOTTOM_TIP], color="#ff7f3f", lw=0.8, ls=(0, (2.5, 1.5)), zorder=4)
    ax.plot([x, x + 1.5], [BOTTOM_TIP, BOTTOM_TIP + 5], color="#ff7f3f", lw=0.7, zorder=4)
    ax.text(x, 542.5, name, fontsize=7.6, ha="left", va="center", color="#222222")
ax.scatter(MARKED_STRAINS, [535.5] * len(MARKED_STRAINS), s=7, marker="D", c="#0a3fb0", edgecolors="#10204a", linewidths=0.5, zorder=5)
ax.scatter(LARGE_MARKED, [535.5] * len(LARGE_MARKED), s=16, marker="o", c="#0a3fb0", edgecolors="#10204a", linewidths=0.8, zorder=5)

# heatmap
color_map = ListedColormap(STATE_COLORS)
n_states = len(STATE_COLORS)
bars = np.vstack([parse_states(CLADE_BAR)])
ax.imshow(bars, cmap=color_map, vmin=-0.5, vmax=n_states - 0.5, extent=(0.5, HEAT_RIGHT, 572, 561),
          interpolation="nearest", aspect="auto", zorder=1)
bars = np.vstack([parse_states(SOURCE_BAR)])
ax.imshow(bars, cmap=color_map, vmin=-0.5, vmax=n_states - 0.5, extent=(0.5, HEAT_RIGHT, 586, 575),
          interpolation="nearest", aspect="auto", zorder=1)
ax.text(1255, 567, "Clade", fontsize=7.7, va="center", color="#222222")
ax.text(1255, 580.5, "Source", fontsize=7.7, va="center", color="#222222")

rows = []
row_top = 596
row_h = 10.574
for s, (title, section) in enumerate(zip(SECTION_TITLES, SECTIONS)):
    if s > 0:
        rows.append(np.zeros(N_COLS, dtype=int))
    ax.text(1251, row_top + (len(rows) - 0.5) * row_h, title, fontsize=5.65, fontweight="bold", va="center", color="#111111")
    for label, spec in section:
        y = row_top + (len(rows) + 0.5) * row_h
        locus = label.split(";")[0]
        bold = locus in BOLD_LOCI
        ax.text(1263, y, gene_markup(label, bold), fontsize=5.65, va="center", color=label_color(label),
                fontweight="bold" if bold else "normal", alpha=1.0 if bold else 0.82)
        rows.append(parse_states(spec))
matrix = np.vstack(rows)
ax.imshow(matrix, cmap=color_map, vmin=-0.5, vmax=n_states - 0.5,
          extent=(0.5, HEAT_RIGHT, row_top + len(rows) * row_h, row_top), interpolation="nearest", aspect="auto", zorder=1)
ax.set_xlim(0, 1508)
ax.set_ylim(2040, 0)

fig.savefig("out.png", dpi=100)
